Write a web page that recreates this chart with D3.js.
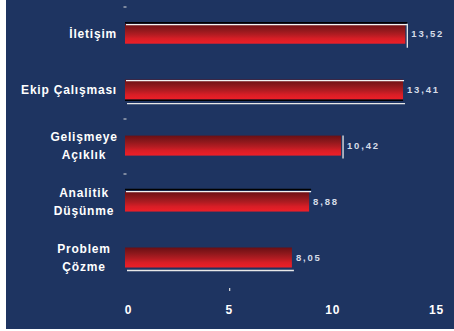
<!DOCTYPE html>
<html lang="tr">
<head>
<meta charset="UTF-8">
<title>Beceriler</title>
<script src="https://d3js.org/d3.v7.min.js"></script>
<style>
  body { margin: 0; background: #fff; }
  svg { display: block; }
</style>
</head>
<body>
<div id="chart"></div>
<script>
    // données
    const categories = ["İletişim", "Ekip Çalışması", "Gelişmeye Açıklık", "Analitik Düşünme", "Problem Çözme"];
    const labelLines = [["İletişim"], ["Ekip Çalışması"], ["Gelişmeye", "Açıklık"], ["Analitik", "Düşünme"], ["Problem", "Çözme"]];
    const values = [13.52, 13.41, 10.42, 8.88, 8.05];
    const valueLabels = ["13,52", "13,41", "10,42", "8,88", "8,05"];
    const ticks = [0, 5, 10, 15];

    const width = 454, height = 331, bg = "#1e3461", barH = 20;

    const x = d3.scaleLinear().domain([0, 15]).range([125, 436]);
    const y = d3.scalePoint().domain(categories).range([33.7, 257.5]);

    const svg = d3.select("#chart").append("svg")
        .attr("width", width).attr("height", height)
        .style("font-family", "'Liberation Sans', Arial, sans-serif");

    // fond bleu avec bord blanc à gauche et en bas
    svg.append("rect").attr("x", 6).attr("y", 0).attr("width", width - 6).attr("height", 329).attr("fill", bg);

    const grad = svg.append("defs").append("linearGradient")
        .attr("id", "barGrad").attr("x1", 0).attr("y1", 0).attr("x2", 0).attr("y2", 1);
    [[0, "#6a0f14"], [0.3, "#8e181c"], [0.55, "#b31c22"], [0.75, "#d81e26"], [1, "#ee1f28"]]
        .forEach(s => grad.append("stop").attr("offset", s[0]).attr("stop-color", s[1]));

    const g = svg.selectAll("g.bar").data(categories).enter().append("g").attr("class", "bar");

    g.append("rect")
        .attr("x", x(0))
        .attr("y", d => y(d) - barH / 2)
        .attr("width", (d, i) => x(values[i]) - x(0))
        .attr("height", barH)
        .attr("fill", "url(#barGrad)");

    // petits traits (effets de relief de l'original)
    const line = (x1, y1, x2, y2, c, w) => svg.append("line")
        .attr("x1", x1).attr("y1", y1).attr("x2", x2).attr("y2", y2)
        .attr("stroke", c).attr("stroke-width", w || 1.2);

    let c0 = y(categories[0]), e0 = x(values[0]);
    line(x(0), c0 - barH / 2 - 1, e0 + 2, c0 - barH / 2 - 1, "#000", 1.5);
    line(x(0) + 1, c0 - barH / 2 + 1, e0 + 2, c0 - barH / 2 + 1, "#f2f2f2", 1.2);
    line(e0 + 2, c0 - barH / 2, e0 + 2, c0 + barH / 2 + 4, "#e8e8e8", 1.3);

    let c1 = y(categories[1]), e1 = x(values[1]);
    line(x(0) + 1, c1 - barH / 2 + 1, e1 + 1, c1 - barH / 2 + 1, "#f2f2f2", 1.2);
    line(x(0), c1 + barH / 2 + 0.5, e1, c1 + barH / 2 + 0.5, "#000", 1.5);
    line(x(0) + 2, c1 + barH / 2 + 4, e1 + 2, c1 + barH / 2 + 4, "#e8e8e8", 1.3);

    let c2 = y(categories[2]), e2 = x(values[2]);
    line(e2 + 2, c2 - barH / 2, e2 + 2, c2 + barH / 2 + 3, "#e8e8e8", 1.3);

    let c3 = y(categories[3]), e3 = x(values[3]);
    line(x(0), c3 - barH / 2 - 2, e3 + 2, c3 - barH / 2 - 2, "#000", 1.5);
    line(x(0) + 1, c3 - barH / 2, e3 + 2, c3 - barH / 2, "#f2f2f2", 1.2);

    let c4 = y(categories[4]), e4 = x(values[4]);
    line(x(0) + 2, c4 + barH / 2 + 3, e4 + 2, c4 + barH / 2 + 3, "#e8e8e8", 1.3);

    [[x(0), 7], [x(0), 119], [x(0), 174]].forEach(p => line(p[0] - 1.5, p[1], p[0] + 1.5, p[1], "#ddd", 1));
    line(x(5) + 1, 288, x(5) + 1, 291, "#ddd", 1.2);

    // valeurs
    g.append("text")
        .attr("x", (d, i) => x(values[i]) + (i === 0 || i === 2 ? 6 : 4))
        .attr("y", d => y(d) + 3.5)
        .attr("fill", "#d6dce8")
        .attr("font-size", "9.5px")
        .attr("font-weight", "bold")
        .attr("letter-spacing", "1.8px")
        .text((d, i) => valueLabels[i]);

    // libellés des catégories
    g.each(function (d, i) {
        const lines = labelLines[i];
        const t = d3.select(this).append("text")
            .attr("fill", "#fff")
            .attr("font-size", "12px")
            .attr("font-weight", "bold")
            .attr("letter-spacing", "0.8px");
        lines.forEach((l, k) => {
            t.append("tspan")
                .attr("x", lines.length > 1 ? 84 : 117)
                .attr("text-anchor", lines.length > 1 ? "middle" : "end")
                .attr("y", y(d) + 4.5 + (k - (lines.length - 1) / 2) * 18.5)
                .text(l);
        });
    });

    // axe des x (sans ligne)
    const ax = svg.append("g").attr("transform", "translate(0,310)")
        .call(d3.axisBottom(x).tickValues(ticks).tickSize(0).tickFormat(d3.format("d")));
    ax.select(".domain").remove();
    ax.selectAll("text")
        .attr("fill", "#fff")
        .attr("font-size", "12px")
        .attr("font-weight", "bold")
        .attr("letter-spacing", "0.8px")
        .attr("font-family", "'Liberation Sans', Arial, sans-serif")
        .attr("dy", "0.35em").attr("y", 0)
        .attr("dx", (d, i) => i === 0 ? 3 : 0);
</script>
</body>
</html>
